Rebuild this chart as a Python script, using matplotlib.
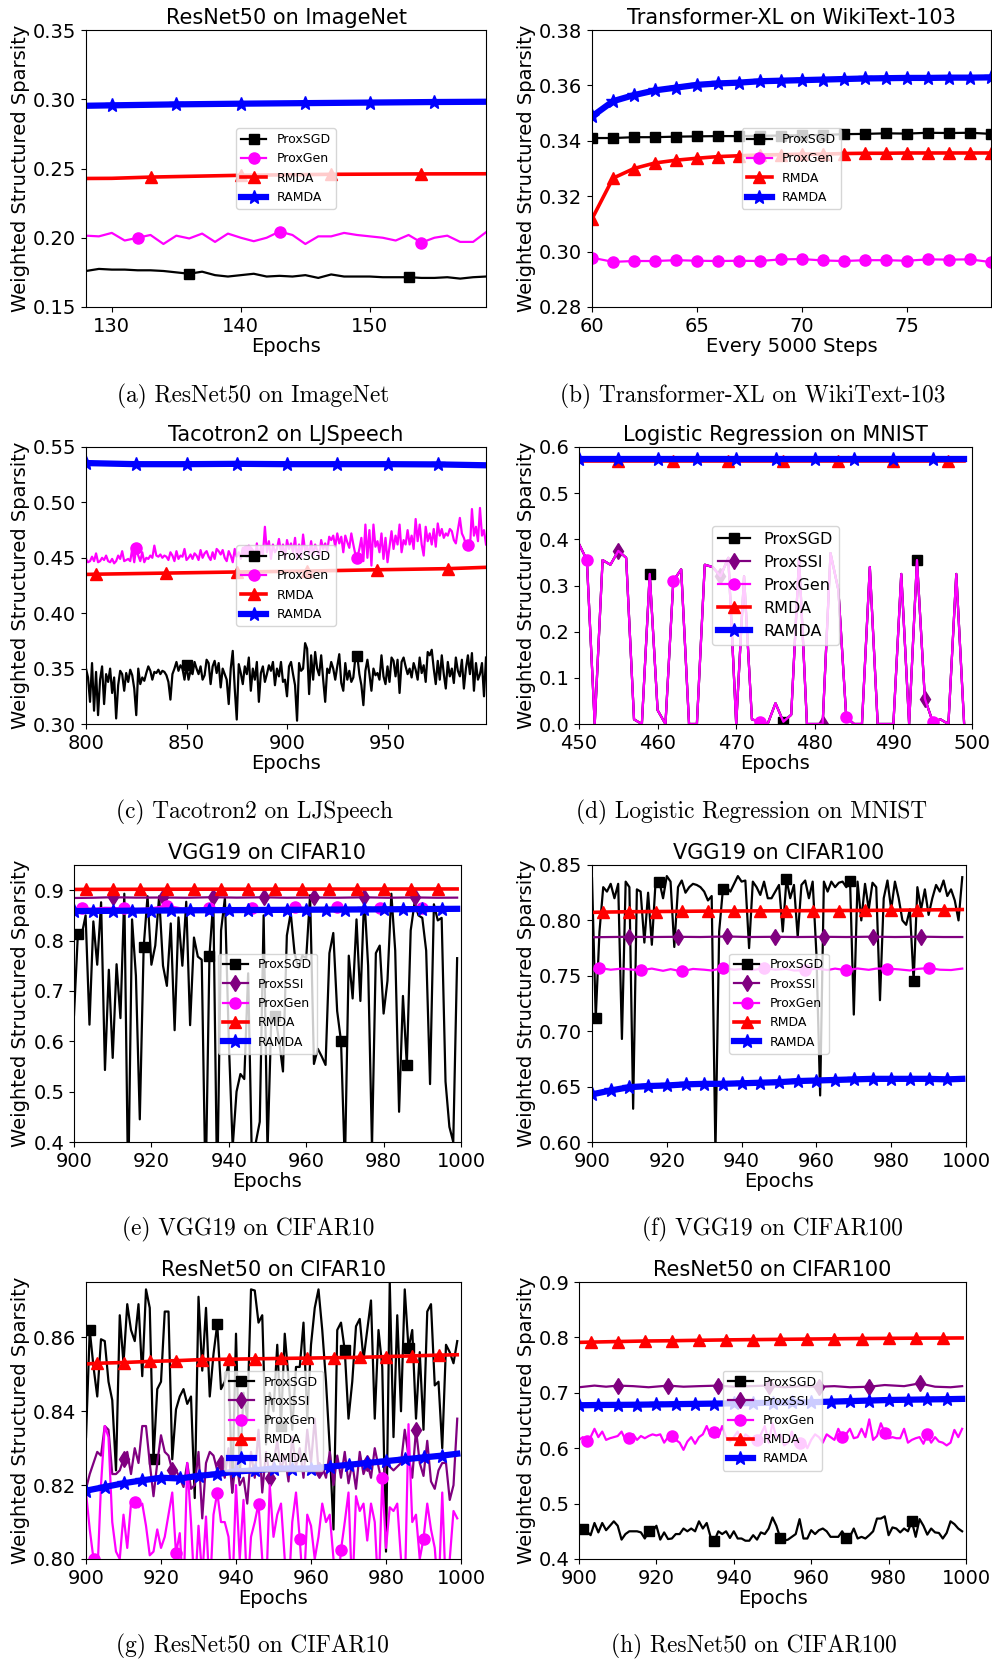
import matplotlib
matplotlib.use("Agg")
import matplotlib.pyplot as plt
from matplotlib.ticker import FormatStrFormatter

W, H = 992, 1663

# ---------------- (a) ResNet50 on ImageNet ----------------
a_epochs = list(range(128, 160))
a_proxsgd = [0.176, 0.1775, 0.177, 0.177, 0.1765, 0.1765, 0.176, 0.175, 0.174, 0.1755, 0.173, 0.172,
             0.173, 0.174, 0.172, 0.1725, 0.172, 0.173, 0.171, 0.1735, 0.172, 0.172, 0.172, 0.1715,
             0.1715, 0.1715, 0.171, 0.171, 0.1715, 0.1705, 0.1715, 0.172]
a_proxgen = [0.2015, 0.201, 0.2035, 0.198, 0.200, 0.202, 0.1955, 0.2015, 0.1995, 0.203, 0.197, 0.203,
             0.200, 0.1975, 0.200, 0.2045, 0.202, 0.1955, 0.201, 0.201, 0.2035, 0.202, 0.201, 0.200,
             0.198, 0.202, 0.1965, 0.200, 0.2015, 0.197, 0.197, 0.204]
a_rmda_x = [128, 130, 133, 140, 147, 154, 159]
a_rmda = [0.2428, 0.2429, 0.2438, 0.2451, 0.2458, 0.2461, 0.2462]
a_ramda_x = [128, 130, 135, 140, 145, 150, 155, 159]
a_ramda = [0.2953, 0.2956, 0.2963, 0.2968, 0.2972, 0.2976, 0.298, 0.2982]

# ---------------- (b) Transformer-XL on WikiText-103 ----------------
b_steps = [0] + list(range(60, 80))
b_proxsgd = [0.0, 0.341, 0.341, 0.3413, 0.3413, 0.3415, 0.3416, 0.3417, 0.3417, 0.3418, 0.3419, 0.342,
             0.3421, 0.3424, 0.3425, 0.3427, 0.3426, 0.3429, 0.3428, 0.3429, 0.3425]
b_proxgen = [0.0, 0.2978, 0.2963, 0.2966, 0.2966, 0.2969, 0.2967, 0.2966, 0.2967, 0.2966, 0.2972, 0.2973,
             0.2968, 0.2966, 0.2969, 0.2969, 0.2967, 0.2972, 0.2971, 0.2972, 0.2962]
b_rmda = [0.0, 0.3118, 0.3265, 0.330, 0.332, 0.333, 0.3337, 0.3343, 0.3346, 0.3349, 0.335, 0.3352,
          0.3352, 0.3354, 0.3355, 0.3355, 0.3356, 0.3356, 0.3356, 0.3356, 0.3356]
b_ramda = [0.0, 0.3488, 0.3543, 0.3565, 0.3582, 0.3592, 0.3602, 0.3607, 0.361, 0.3615, 0.3617, 0.3619,
           0.3621, 0.3623, 0.3625, 0.3626, 0.3627, 0.3627, 0.3628, 0.3628, 0.3629]

# ---------------- (c) Tacotron2 on LJSpeech ----------------
c_epochs = list(range(800, 1000))
c_proxsgd = [
    0.350, 0.342, 0.320, 0.355, 0.312, 0.347, 0.308, 0.340, 0.352, 0.318,
    0.345, 0.338, 0.350, 0.328, 0.342, 0.305, 0.335, 0.348, 0.345, 0.330,
    0.346, 0.338, 0.349, 0.344, 0.332, 0.308, 0.350, 0.336, 0.342, 0.339,
    0.346, 0.352, 0.348, 0.340, 0.347, 0.346, 0.349, 0.345, 0.348, 0.347,
    0.344, 0.338, 0.322, 0.345, 0.350, 0.356, 0.348, 0.353, 0.350, 0.340,
    0.353, 0.340, 0.348, 0.345, 0.356, 0.350, 0.345, 0.352, 0.340, 0.344,
    0.358, 0.355, 0.336, 0.352, 0.357, 0.346, 0.355, 0.333, 0.350, 0.345,
    0.340, 0.318, 0.350, 0.366, 0.332, 0.304, 0.354, 0.346, 0.336, 0.352,
    0.345, 0.360, 0.330, 0.350, 0.340, 0.356, 0.320, 0.346, 0.352, 0.338,
    0.345, 0.353, 0.348, 0.356, 0.335, 0.350, 0.343, 0.356, 0.338, 0.340,
    0.325, 0.352, 0.356, 0.345, 0.335, 0.303, 0.355, 0.348, 0.350, 0.373,
    0.368, 0.327, 0.362, 0.340, 0.365, 0.350, 0.344, 0.362, 0.340, 0.320,
    0.350, 0.346, 0.356, 0.350, 0.340, 0.352, 0.363, 0.337, 0.330, 0.355,
    0.340, 0.348, 0.338, 0.342, 0.360, 0.361, 0.345, 0.335, 0.317, 0.348,
    0.358, 0.345, 0.330, 0.350, 0.344, 0.346, 0.340, 0.362, 0.343, 0.336,
    0.352, 0.338, 0.360, 0.357, 0.343, 0.358, 0.328, 0.356, 0.360, 0.352,
    0.345, 0.350, 0.342, 0.355, 0.349, 0.340, 0.360, 0.346, 0.353, 0.338,
    0.365, 0.362, 0.367, 0.350, 0.336, 0.357, 0.340, 0.362, 0.345, 0.332,
    0.356, 0.343, 0.350, 0.337, 0.360, 0.348, 0.343, 0.358, 0.332, 0.350,
    0.362, 0.345, 0.364, 0.330, 0.355, 0.340, 0.345, 0.355, 0.325, 0.360]
c_proxgen = [
    0.449, 0.446, 0.447, 0.451, 0.447, 0.454, 0.446, 0.447, 0.450, 0.448,
    0.452, 0.447, 0.446, 0.449, 0.445, 0.447, 0.452, 0.449, 0.456, 0.447,
    0.448, 0.449, 0.447, 0.458, 0.446, 0.459, 0.452, 0.447, 0.455, 0.446,
    0.450, 0.449, 0.452, 0.450, 0.461, 0.452, 0.451, 0.453, 0.450, 0.452,
    0.451, 0.448, 0.455, 0.452, 0.447, 0.456, 0.449, 0.452, 0.451, 0.458,
    0.448, 0.450, 0.453, 0.449, 0.454, 0.452, 0.448, 0.457, 0.450, 0.454,
    0.456, 0.451, 0.448, 0.455, 0.449, 0.458, 0.456, 0.453, 0.457, 0.450,
    0.447, 0.456, 0.452, 0.446, 0.458, 0.451, 0.455, 0.449, 0.459, 0.452,
    0.456, 0.461, 0.451, 0.457, 0.450, 0.463, 0.448, 0.460, 0.452, 0.478,
    0.455, 0.465, 0.449, 0.462, 0.455, 0.458, 0.467, 0.455, 0.462, 0.450,
    0.466, 0.458, 0.463, 0.455, 0.468, 0.449, 0.462, 0.450, 0.471, 0.456,
    0.460, 0.453, 0.465, 0.452, 0.462, 0.457, 0.451, 0.466, 0.458, 0.463,
    0.456, 0.469, 0.466, 0.470, 0.460, 0.472, 0.463, 0.469, 0.455, 0.470,
    0.464, 0.459, 0.472, 0.462, 0.453, 0.450, 0.458, 0.468, 0.447, 0.480,
    0.450, 0.475, 0.443, 0.480, 0.460, 0.465, 0.455, 0.472, 0.449, 0.468,
    0.446, 0.460, 0.474, 0.458, 0.470, 0.462, 0.480, 0.455, 0.466, 0.462,
    0.475, 0.462, 0.470, 0.458, 0.485, 0.465, 0.480, 0.462, 0.452, 0.478,
    0.465, 0.472, 0.462, 0.476, 0.460, 0.481, 0.470, 0.476, 0.468, 0.472,
    0.470, 0.476, 0.474, 0.466, 0.463, 0.475, 0.486, 0.472, 0.468, 0.462,
    0.462, 0.458, 0.494, 0.470, 0.478, 0.465, 0.495, 0.470, 0.475, 0.462]
c_rmda_x = [800, 805, 840, 875, 910, 945, 980, 999]
c_rmda = [0.435, 0.4352, 0.4362, 0.4372, 0.438, 0.4392, 0.4402, 0.4414]
c_ramda_x = [800, 825, 850, 875, 900, 925, 950, 975, 999]
c_ramda = [0.5355, 0.5345, 0.5345, 0.5348, 0.5345, 0.5345, 0.5345, 0.5343, 0.5335]

# ---------------- (d) Logistic Regression on MNIST ----------------
d_epochs = list(range(450, 500))
d_proxgen = [0.39, 0.355, 0.0, 0.355, 0.345, 0.375, 0.36, 0.01, 0.0, 0.325,
             0.03, 0.0, 0.31, 0.335, 0.0, 0.0, 0.345, 0.34, 0.32, 0.36,
             0.0, 0.32, 0.01, 0.005, 0.0, 0.045, 0.005, 0.02, 0.36, 0.0,
             0.0, 0.0, 0.37, 0.29, 0.015, 0.0, 0.0, 0.34, 0.0, 0.0,
             0.0, 0.325, 0.0, 0.355, 0.055, 0.005, 0.01, 0.0, 0.325, 0.0]
d_proxsgd = list(d_proxgen)
d_proxssi = list(d_proxgen)
d_rmda = [0.5705] * 50
d_ramda = [0.5735] * 50

# ---------------- (e) VGG19 on CIFAR10 ----------------
e_epochs = list(range(900, 1000))
e_proxsgd = [
    0.652, 0.813, 0.812, 0.850, 0.633, 0.838, 0.752, 0.876, 0.543, 0.742,
    0.567, 0.753, 0.646, 0.893, 0.300, 0.842, 0.730, 0.445, 0.787, 0.888,
    0.752, 0.790, 0.888, 0.750, 0.710, 0.834, 0.622, 0.846, 0.750, 0.877,
    0.632, 0.806, 0.768, 0.762, 0.300, 0.770, 0.880, 0.300, 0.820, 0.885,
    0.600, 0.390, 0.500, 0.535, 0.525, 0.735, 0.350, 0.400, 0.440, 0.850,
    0.380, 0.650, 0.650, 0.600, 0.540, 0.810, 0.855, 0.775, 0.745, 0.770,
    0.765, 0.890, 0.555, 0.585, 0.570, 0.553, 0.775, 0.815, 0.660, 0.600,
    0.350, 0.770, 0.685, 0.842, 0.680, 0.890, 0.750, 0.390, 0.775, 0.790,
    0.655, 0.720, 0.893, 0.780, 0.460, 0.690, 0.553, 0.820, 0.875, 0.850,
    0.845, 0.780, 0.515, 0.872, 0.840, 0.845, 0.520, 0.430, 0.400, 0.765]
e_proxssi_x = [900, 905, 910, 916, 923, 929, 936, 942, 949, 955, 962, 968, 975, 981, 988, 994, 999]
e_proxssi = [0.8845, 0.885, 0.886, 0.8852, 0.8855, 0.885, 0.886, 0.8852, 0.8858, 0.885, 0.8855,
             0.885, 0.8858, 0.885, 0.8856, 0.885, 0.8852]
e_proxgen_x = [900, 902, 905, 908, 913, 916, 920, 924, 928, 931, 935, 939, 943, 946, 950, 954, 957,
               961, 965, 968, 972, 976, 979, 983, 987, 990, 994, 999]
e_proxgen = [0.864, 0.8645, 0.863, 0.865, 0.864, 0.8625, 0.864, 0.869, 0.8635, 0.8625, 0.865, 0.8625,
             0.8635, 0.864, 0.8632, 0.8635, 0.867, 0.8628, 0.8632, 0.866, 0.863, 0.8635, 0.865,
             0.8632, 0.8628, 0.8638, 0.8635, 0.863]
e_rmda_x = [900, 903, 910, 917, 924, 931, 938, 945, 952, 959, 966, 973, 980, 987, 994, 999]
e_rmda = [0.9015, 0.9016, 0.9017, 0.9018, 0.9019, 0.902, 0.902, 0.902, 0.9021, 0.9021, 0.9022,
          0.9022, 0.9023, 0.9023, 0.9024, 0.9024]
e_ramda_x = [900, 905, 910, 915, 920, 925, 930, 935, 940, 945, 950, 955, 960, 965, 970, 975, 980,
             985, 990, 995, 999]
e_ramda = [0.8585, 0.8588, 0.859, 0.8593, 0.8595, 0.8597, 0.86, 0.8602, 0.8604, 0.8606, 0.8608,
           0.861, 0.8612, 0.8614, 0.8616, 0.8618, 0.862, 0.8622, 0.8625, 0.8628, 0.863]

# ---------------- (f) VGG19 on CIFAR100 ----------------
f_epochs = list(range(900, 1000))
f_proxsgd = [
    0.838, 0.712, 0.790, 0.830, 0.826, 0.833, 0.820, 0.833, 0.693, 0.835,
    0.830, 0.630, 0.828, 0.826, 0.780, 0.825, 0.778, 0.835, 0.835, 0.820,
    0.840, 0.835, 0.776, 0.830, 0.836, 0.825, 0.830, 0.833, 0.832, 0.830,
    0.826, 0.818, 0.822, 0.590, 0.790, 0.828, 0.830, 0.826, 0.833, 0.840,
    0.835, 0.836, 0.775, 0.835, 0.830, 0.823, 0.835, 0.820, 0.820, 0.826,
    0.832, 0.790, 0.837, 0.820, 0.832, 0.785, 0.832, 0.836, 0.820, 0.835,
    0.770, 0.642, 0.835, 0.826, 0.835, 0.830, 0.834, 0.835, 0.830, 0.836,
    0.715, 0.835, 0.800, 0.833, 0.810, 0.834, 0.830, 0.728, 0.820, 0.836,
    0.810, 0.835, 0.820, 0.800, 0.796, 0.810, 0.745, 0.830, 0.810, 0.828,
    0.805, 0.820, 0.832, 0.826, 0.836, 0.822, 0.828, 0.818, 0.800, 0.839]
f_proxssi_x = [900, 905, 910, 916, 923, 929, 936, 942, 949, 955, 962, 968, 975, 981, 988, 994, 999]
f_proxssi = [0.7848, 0.785, 0.7852, 0.785, 0.7852, 0.785, 0.7855, 0.785, 0.7852, 0.785, 0.7852,
             0.785, 0.7853, 0.785, 0.7853, 0.785, 0.785]
f_proxgen_x = [900, 902, 905, 908, 911, 913, 916, 919, 921, 924, 927, 930, 932, 935, 938, 941, 943,
               946, 949, 952, 954, 957, 960, 963, 965, 968, 971, 974, 976, 979, 982, 985, 987, 990,
               993, 996, 999]
f_proxgen = [0.7555, 0.757, 0.7555, 0.7565, 0.7555, 0.755, 0.7565, 0.7545, 0.756, 0.754, 0.7562,
             0.7555, 0.7548, 0.757, 0.7555, 0.7563, 0.7552, 0.7568, 0.7555, 0.7562, 0.7548, 0.755,
             0.7565, 0.7552, 0.7565, 0.755, 0.7566, 0.7554, 0.7565, 0.7565, 0.7558, 0.7548, 0.7562,
             0.757, 0.7555, 0.7552, 0.7565]
f_rmda_x = [900, 903, 910, 917, 924, 931, 938, 945, 952, 959, 966, 973, 980, 987, 994, 999]
f_rmda = [0.8072, 0.8075, 0.8078, 0.808, 0.8082, 0.8084, 0.8085, 0.8086, 0.8087, 0.8088, 0.8089,
          0.809, 0.8092, 0.8094, 0.8096, 0.8098]
f_ramda_x = [900, 905, 910, 915, 920, 925, 930, 935, 940, 945, 950, 955, 960, 965, 970, 975, 980,
             985, 990, 995, 999]
f_ramda = [0.643, 0.6465, 0.6495, 0.6505, 0.651, 0.652, 0.6525, 0.6525, 0.653, 0.6535, 0.654,
           0.655, 0.6555, 0.656, 0.6565, 0.657, 0.657, 0.657, 0.657, 0.6565, 0.657]

# ---------------- (g) ResNet50 on CIFAR10 ----------------
g_epochs = list(range(900, 1000))
g_proxsgd = [
    0.833, 0.862, 0.852, 0.844, 0.8595, 0.859, 0.848, 0.843, 0.824, 0.866,
    0.853, 0.869, 0.862, 0.859, 0.869, 0.8495, 0.873, 0.868, 0.827, 0.846,
    0.848, 0.867, 0.867, 0.827, 0.8405, 0.844, 0.846, 0.842, 0.844, 0.8165,
    0.871, 0.851, 0.868, 0.844, 0.8555, 0.8636, 0.846, 0.848, 0.853, 0.818,
    0.861, 0.822, 0.845, 0.838, 0.873, 0.8727, 0.864, 0.866, 0.831, 0.845,
    0.840, 0.858, 0.836, 0.861, 0.849, 0.835, 0.852, 0.852, 0.864, 0.838,
    0.858, 0.868, 0.873, 0.862, 0.848, 0.830, 0.808, 0.862, 0.864, 0.8565,
    0.838, 0.848, 0.863, 0.865, 0.854, 0.862, 0.870, 0.838, 0.862, 0.852,
    0.802, 0.875, 0.833, 0.866, 0.840, 0.873, 0.857, 0.862, 0.838, 0.856,
    0.835, 0.867, 0.869, 0.847, 0.848, 0.830, 0.858, 0.856, 0.853, 0.859]
g_proxssi = [
    0.819, 0.823, 0.826, 0.829, 0.828, 0.836, 0.835, 0.823, 0.823, 0.824,
    0.827, 0.829, 0.823, 0.830, 0.826, 0.836, 0.836, 0.826, 0.817, 0.826,
    0.8335, 0.829, 0.828, 0.824, 0.824, 0.822, 0.8195, 0.826, 0.819, 0.820,
    0.829, 0.811, 0.826, 0.829, 0.828, 0.824, 0.826, 0.822, 0.830, 0.818,
    0.827, 0.820, 0.822, 0.815, 0.829, 0.822, 0.835, 0.818, 0.829, 0.822,
    0.826, 0.832, 0.824, 0.828, 0.821, 0.833, 0.825, 0.830, 0.822, 0.835,
    0.826, 0.838, 0.824, 0.825, 0.822, 0.829, 0.820, 0.828, 0.822, 0.829,
    0.8205, 0.826, 0.819, 0.829, 0.823, 0.826, 0.822, 0.830, 0.825, 0.820,
    0.826, 0.825, 0.824, 0.825, 0.826, 0.835, 0.828, 0.822, 0.835, 0.826,
    0.8225, 0.832, 0.821, 0.819, 0.824, 0.826, 0.826, 0.816, 0.820, 0.838]
g_proxgen = [
    0.818, 0.808, 0.800, 0.795, 0.820, 0.836, 0.833, 0.810, 0.802, 0.800,
    0.812, 0.803, 0.815, 0.8155, 0.814, 0.815, 0.809, 0.801, 0.802, 0.808,
    0.803, 0.806, 0.812, 0.818, 0.8015, 0.807, 0.790, 0.826, 0.810, 0.790,
    0.809, 0.795, 0.8115, 0.790, 0.812, 0.818, 0.810, 0.810, 0.806, 0.790,
    0.820, 0.800, 0.816, 0.790, 0.806, 0.810, 0.815, 0.800, 0.790, 0.820,
    0.806, 0.812, 0.815, 0.800, 0.790, 0.810, 0.818, 0.8055, 0.790, 0.812,
    0.809, 0.800, 0.806, 0.815, 0.810, 0.812, 0.800, 0.790, 0.8025, 0.810,
    0.818, 0.790, 0.817, 0.813, 0.815, 0.805, 0.815, 0.810, 0.790, 0.822,
    0.803, 0.814, 0.813, 0.815, 0.800, 0.790, 0.8365, 0.810, 0.812, 0.800,
    0.8055, 0.815, 0.808, 0.803, 0.790, 0.818, 0.790, 0.800, 0.813, 0.811]
g_rmda_x = [900, 903, 910, 917, 924, 931, 938, 945, 952, 959, 966, 973, 980, 987, 994, 999]
g_rmda = [0.8528, 0.853, 0.8532, 0.8535, 0.8537, 0.854, 0.8541, 0.8542, 0.8543, 0.8544, 0.8545,
          0.8546, 0.8548, 0.855, 0.8552, 0.8553]
g_ramda_x = [900, 905, 910, 915, 920, 925, 930, 935, 940, 945, 950, 955, 960, 965, 970, 975, 980,
             985, 990, 995, 999]
g_ramda = [0.8185, 0.8195, 0.8205, 0.8213, 0.822, 0.8218, 0.8225, 0.823, 0.8237, 0.824, 0.8245,
           0.8245, 0.8245, 0.825, 0.8255, 0.826, 0.8265, 0.827, 0.8275, 0.828, 0.8285]

# ---------------- (h) ResNet50 on CIFAR100 ----------------
h_epochs = list(range(900, 1000))
h_proxsgd = [
    0.455, 0.455, 0.450, 0.443, 0.465, 0.448, 0.465, 0.452, 0.460, 0.468,
    0.460, 0.435, 0.445, 0.450, 0.450, 0.450, 0.448, 0.437, 0.450, 0.450,
    0.460, 0.435, 0.448, 0.436, 0.437, 0.445, 0.445, 0.455, 0.450, 0.455,
    0.450, 0.468, 0.455, 0.465, 0.440, 0.433, 0.450, 0.445, 0.450, 0.438,
    0.450, 0.437, 0.437, 0.433, 0.433, 0.443, 0.435, 0.448, 0.445, 0.455,
    0.475, 0.460, 0.438, 0.433, 0.435, 0.440, 0.445, 0.472, 0.437, 0.437,
    0.452, 0.445, 0.452, 0.455, 0.450, 0.440, 0.440, 0.440, 0.450, 0.438,
    0.440, 0.455, 0.437, 0.440, 0.437, 0.443, 0.450, 0.473, 0.473, 0.477,
    0.443, 0.457, 0.455, 0.448, 0.455, 0.450, 0.468, 0.440, 0.472, 0.460,
    0.444, 0.455, 0.448, 0.447, 0.437, 0.447, 0.468, 0.463, 0.455, 0.450]
h_proxgen = [
    0.615, 0.620, 0.613, 0.620, 0.635, 0.620, 0.630, 0.615, 0.618, 0.620,
    0.622, 0.630, 0.615, 0.618, 0.625, 0.615, 0.622, 0.618, 0.622, 0.625,
    0.623, 0.625, 0.610, 0.620, 0.622, 0.615, 0.610, 0.597, 0.612, 0.620,
    0.608, 0.620, 0.625, 0.640, 0.622, 0.630, 0.620, 0.640, 0.620, 0.612,
    0.620, 0.630, 0.610, 0.625, 0.620, 0.615, 0.615, 0.625, 0.640, 0.610,
    0.645, 0.620, 0.625, 0.605, 0.610, 0.630, 0.605, 0.610, 0.615, 0.600,
    0.615, 0.625, 0.620, 0.610, 0.625, 0.620, 0.615, 0.635, 0.620, 0.625,
    0.635, 0.618, 0.620, 0.635, 0.620, 0.652, 0.615, 0.622, 0.645, 0.628,
    0.618, 0.620, 0.618, 0.618, 0.635, 0.610, 0.615, 0.618, 0.620, 0.608,
    0.625, 0.610, 0.620, 0.612, 0.610, 0.605, 0.610, 0.633, 0.620, 0.635]
h_proxssi_x = [900, 904, 907, 910, 914, 918, 923, 927, 931, 936, 940, 944, 949, 953, 957, 962, 966,
               970, 975, 979, 984, 988, 992, 996, 999]
h_proxssi = [0.710, 0.713, 0.711, 0.713, 0.712, 0.710, 0.713, 0.711, 0.712, 0.713, 0.711, 0.712,
             0.713, 0.710, 0.712, 0.711, 0.712, 0.710, 0.711, 0.714, 0.712, 0.717, 0.711, 0.710, 0.712]
h_rmda_x = [900, 903, 910, 917, 924, 931, 938, 945, 952, 959, 966, 973, 980, 987, 994, 999]
h_rmda = [0.791, 0.7915, 0.7925, 0.7935, 0.794, 0.7948, 0.7955, 0.796, 0.7965, 0.797, 0.7975,
          0.798, 0.7983, 0.7986, 0.7988, 0.799]
h_ramda_x = [900, 905, 910, 915, 920, 925, 930, 935, 940, 945, 950, 955, 960, 965, 970, 975, 980,
             985, 990, 995, 999]
h_ramda = [0.6775, 0.678, 0.6782, 0.6785, 0.679, 0.6795, 0.68, 0.6805, 0.681, 0.6815, 0.682, 0.6825,
           0.683, 0.684, 0.685, 0.686, 0.687, 0.6875, 0.688, 0.6885, 0.689]

STYLE = {
    "ProxSGD": dict(color="black", marker="s", lw=1.6, ms=7),
    "ProxSSI": dict(color="purple", marker="d", lw=1.6, ms=8),
    "ProxGen": dict(color="magenta", marker="o", lw=1.6, ms=8),
    "RMDA": dict(color="red", marker="^", lw=2.6, ms=8.5),
    "RAMDA": dict(color="blue", marker="*", lw=4.5, ms=10.5),
}
MARK_STEP = {"ProxSGD": 17, "ProxSSI": 13, "ProxGen": 11, "RMDA": 7, "RAMDA": 5}


def px_axes(fig, x0, y0, x1, y1):
    return fig.add_axes([x0 / W, 1 - y1 / H, (x1 - x0) / W, (y1 - y0) / H])


def draw(ax, series, title, xlabel, xlim, ylim, xticks, yticks, yfmt, step_mult=1, leg_size=9):
    for name, xs, ys in series:
        st = STYLE[name]
        step = MARK_STEP[name] * step_mult if step_mult else 1
        idx = [i for i, x in enumerate(xs) if x % step == 0]
        ax.plot(xs, ys, color=st["color"], lw=st["lw"], marker=st["marker"],
                markersize=st["ms"], markevery=idx, label=name)
    ax.set_xlim(*xlim)
    ax.set_ylim(*ylim)
    ax.set_xticks(xticks)
    ax.set_yticks(yticks)
    ax.yaxis.set_major_formatter(FormatStrFormatter(yfmt))
    ax.tick_params(labelsize=14)
    ax.set_title(title, fontsize=15, pad=4)
    ax.set_xlabel(xlabel, fontsize=14, labelpad=1)
    ax.set_ylabel("Weighted Structured Sparsity", fontsize=14, labelpad=2)
    ax.legend(loc="center", fontsize=leg_size)


fig = plt.figure(figsize=(W / 100, H / 100), dpi=100)

ax = px_axes(fig, 86, 30, 486, 307)
draw(ax, [("ProxSGD", a_epochs, a_proxsgd), ("ProxGen", a_epochs, a_proxgen),
          ("RMDA", a_rmda_x, a_rmda), ("RAMDA", a_ramda_x, a_ramda)],
     "ResNet50 on ImageNet", "Epochs", (128, 159), (0.15, 0.35),
     [130, 140, 150], [0.15, 0.20, 0.25, 0.30, 0.35], "%.2f")

ax = px_axes(fig, 592, 30, 991, 307)
draw(ax, [("ProxSGD", b_steps, b_proxsgd), ("ProxGen", b_steps, b_proxgen),
          ("RMDA", b_steps, b_rmda), ("RAMDA", b_steps, b_ramda)],
     "Transformer-XL on WikiText-103", "Every 5000 Steps", (60, 79), (0.28, 0.38),
     [60, 65, 70, 75], [0.28, 0.30, 0.32, 0.34, 0.36, 0.38], "%.2f", step_mult=0)

ax = px_axes(fig, 86, 447, 486, 724)
draw(ax, [("ProxSGD", c_epochs, c_proxsgd), ("ProxGen", c_epochs, c_proxgen),
          ("RMDA", c_rmda_x, c_rmda), ("RAMDA", c_ramda_x, c_ramda)],
     "Tacotron2 on LJSpeech", "Epochs", (800, 999), (0.30, 0.55),
     [800, 850, 900, 950], [0.30, 0.35, 0.40, 0.45, 0.50, 0.55], "%.2f", step_mult=5)

ax = px_axes(fig, 579, 447, 972, 724)
draw(ax, [("ProxSGD", d_epochs, d_proxsgd), ("ProxSSI", d_epochs, d_proxssi),
          ("ProxGen", d_epochs, d_proxgen), ("RMDA", d_epochs, d_rmda),
          ("RAMDA", d_epochs, d_ramda)],
     "Logistic Regression on MNIST", "Epochs", (450, 500), (0.0, 0.6),
     [450, 460, 470, 480, 490, 500], [0.0, 0.1, 0.2, 0.3, 0.4, 0.5, 0.6], "%.1f", leg_size=11.5)

ax = px_axes(fig, 74, 865, 461, 1142)
draw(ax, [("ProxSGD", e_epochs, e_proxsgd), ("ProxSSI", e_proxssi_x, e_proxssi),
          ("ProxGen", e_proxgen_x, e_proxgen), ("RMDA", e_rmda_x, e_rmda),
          ("RAMDA", e_ramda_x, e_ramda)],
     "VGG19 on CIFAR10", "Epochs", (900, 1000), (0.4, 0.95),
     [900, 920, 940, 960, 980, 1000], [0.4, 0.5, 0.6, 0.7, 0.8, 0.9], "%.1f")

ax = px_axes(fig, 592, 865, 966, 1142)
draw(ax, [("ProxSGD", f_epochs, f_proxsgd), ("ProxSSI", f_proxssi_x, f_proxssi),
          ("ProxGen", f_proxgen_x, f_proxgen), ("RMDA", f_rmda_x, f_rmda),
          ("RAMDA", f_ramda_x, f_ramda)],
     "VGG19 on CIFAR100", "Epochs", (900, 1000), (0.60, 0.85),
     [900, 920, 940, 960, 980, 1000], [0.60, 0.65, 0.70, 0.75, 0.80, 0.85], "%.2f")

ax = px_axes(fig, 86, 1282, 461, 1559)
draw(ax, [("ProxSGD", g_epochs, g_proxsgd), ("ProxSSI", g_epochs, g_proxssi),
          ("ProxGen", g_epochs, g_proxgen), ("RMDA", g_rmda_x, g_rmda),
          ("RAMDA", g_ramda_x, g_ramda)],
     "ResNet50 on CIFAR10", "Epochs", (900, 1000), (0.80, 0.875),
     [900, 920, 940, 960, 980, 1000], [0.80, 0.82, 0.84, 0.86], "%.2f")

ax = px_axes(fig, 579, 1282, 966, 1559)
draw(ax, [("ProxSGD", h_epochs, h_proxsgd), ("ProxSSI", h_proxssi_x, h_proxssi),
          ("ProxGen", h_epochs, h_proxgen), ("RMDA", h_rmda_x, h_rmda),
          ("RAMDA", h_ramda_x, h_ramda)],
     "ResNet50 on CIFAR100", "Epochs", (900, 1000), (0.4, 0.9),
     [900, 920, 940, 960, 980, 1000], [0.4, 0.5, 0.6, 0.7, 0.8, 0.9], "%.1f")

captions = [
    ("(a) ResNet50 on ImageNet", 253, 396),
    ("(b) Transformer-XL on WikiText-103", 753, 396),
    ("(c) Tacotron2 on LJSpeech", 254, 812),
    ("(d) Logistic Regression on MNIST", 752, 812),
    ("(e) VGG19 on CIFAR10", 248, 1229),
    ("(f) VGG19 on CIFAR100", 772, 1229),
    ("(g) ResNet50 on CIFAR10", 252, 1646),
    ("(h) ResNet50 on CIFAR100", 754, 1646),
]
for text, cx, cy in captions:
    fig.text(cx / W, 1 - cy / H, text, ha="center", va="center", family="cmr10", fontsize=16.8)

fig.savefig("out.png", dpi=100)
